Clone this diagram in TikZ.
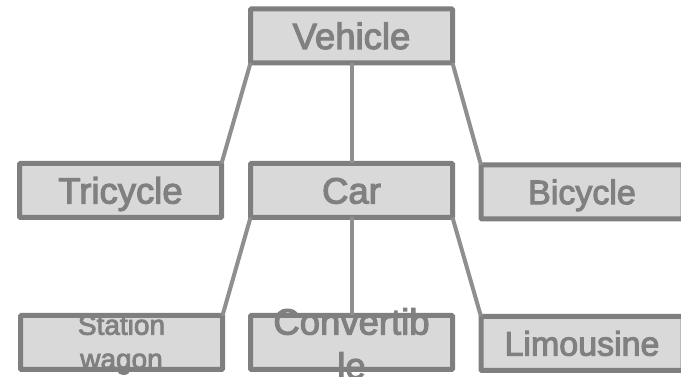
\documentclass[tikz,border=0pt]{standalone}
\usepackage{fontspec}
\setmainfont[FakeBold=3]{Liberation Sans}
\usepackage{tikz}

\definecolor{boxfill}{HTML}{D9D9D9}
\definecolor{boxline}{HTML}{7F7F7F}
\definecolor{boxtext}{HTML}{808080}
\definecolor{linkgray}{HTML}{8F8F8F}

\tikzset{
  box/.style={draw=boxline, fill=boxfill, line width=5pt, rounded corners=1pt,
    minimum width=202pt, minimum height=54pt, inner sep=0pt, outer sep=0pt,
    text=boxtext, text height=26pt, text depth=0pt,
    font=\fontsize{36.5}{44}\selectfont},
  smallbox/.style={box, text height=24.3pt, font=\fontsize{34}{41}\selectfont},
  boxlabel/.style={text=boxtext, align=center, inner sep=0pt, outer sep=0pt},
  link/.style={draw=linkgray, line width=4pt}
}

\begin{document}
\begin{tikzpicture}[x=1pt,y=1pt]
 \useasboundingbox (0,0) rectangle (681,377);
 % top
 \node[box] (vehicle) at (351.5,341) {Vehicle};
 % middle row
 \node[box] (tricycle) at (120.5,186.5) {Tricycle};
 \node[box] (car) at (351.5,186.5) {Car};
 \node[smallbox] (bicycle) at (582,185) {Bicycle};
 % bottom row
 \node[box] (wagon) at (121.5,34.5) {};
 \node[boxlabel, font=\fontsize{28}{34}\selectfont, yshift=-2pt] (wagontext) at (wagon) {Station\\wagon};
 \node[box] (convertible) at (351.5,34.5) {};
 \node[boxlabel, font=\fontsize{36.5}{44}\selectfont, yshift=-1pt] (convtext) at (convertible) {Convertib\\le};
 \node[smallbox] (limousine) at (582,33.5) {Limousine};
 % links
 \draw[link] (vehicle.south west) -- (tricycle.north east);
 \draw[link] (vehicle.south) -- (car.north);
 \draw[link] (vehicle.south east) -- (bicycle.north west);
 \draw[link] (car.south west) -- (wagon.north east);
 \draw[link] (car.south) -- (convertible.north);
 \draw[link] (car.south east) -- (limousine.north west);
\end{tikzpicture}
\end{document}
